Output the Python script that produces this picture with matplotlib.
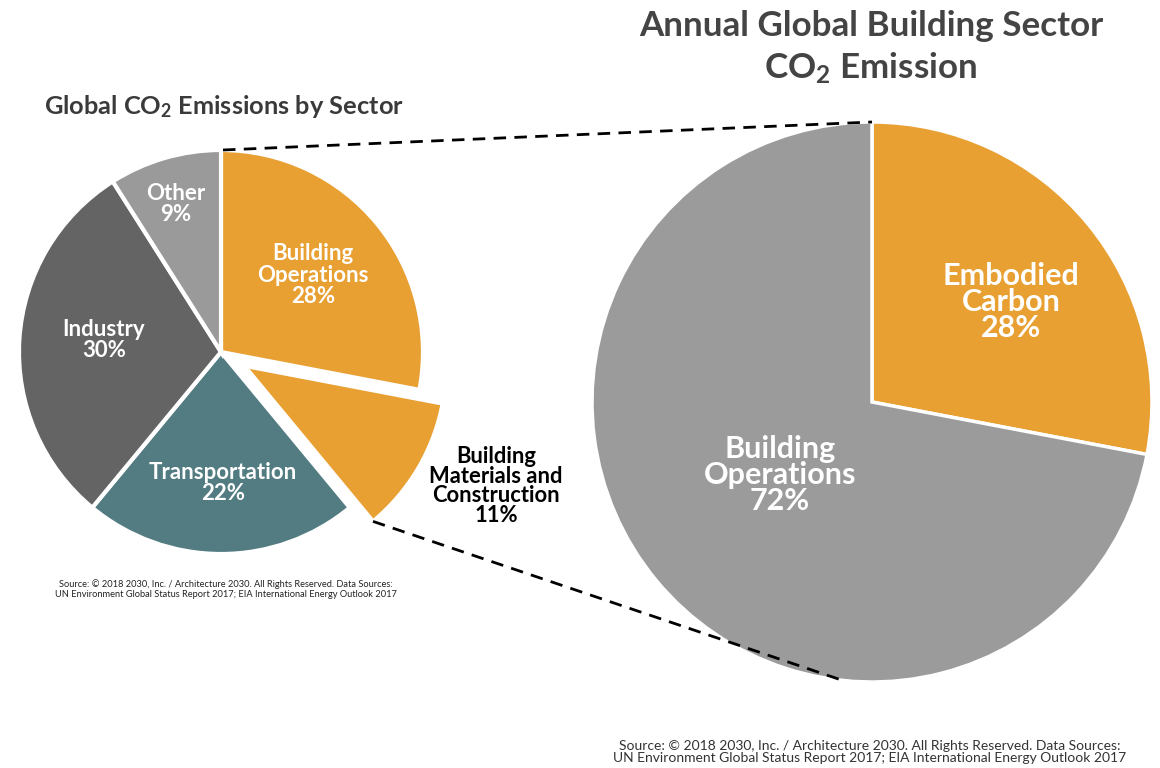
import numpy as np
import matplotlib
matplotlib.use("Agg")
import matplotlib.pyplot as plt

plt.rcParams['font.family'] = ['Lato', 'DejaVu Sans']
plt.rcParams['mathtext.fontset'] = 'custom'
plt.rcParams['mathtext.rm'] = 'Lato:bold'
plt.rcParams['mathtext.it'] = 'Lato:bold'
plt.rcParams['mathtext.bf'] = 'Lato:bold'

# ---- data ----
left_labels = ["Building\nOperations\n28%", "Building\nMaterials and\nConstruction\n11%",
               "Transportation\n22%", "Industry\n30%", "Other\n9%"]
left_values = [28, 11, 22, 30, 9]
left_colors = ["#E8A033", "#E8A033", "#527C82", "#646464", "#9A9A9A"]

right_labels = ["Embodied\nCarbon\n28%", "Building\nOperations\n72%"]
right_values = [28, 72]
right_colors = ["#E8A033", "#9B9B9B"]

W, H = 1160, 768
def Y(y):
    return H - y

fig = plt.figure(figsize=(W / 100, H / 100), dpi=100)
ax = fig.add_axes([0, 0, 1, 1])

# left pie
lc = (221, Y(352)); lr = 202
lw_, _ = ax.pie(left_values, colors=left_colors, startangle=90, counterclock=False,
                explode=[0, 27, 0, 0, 0], radius=lr, center=lc,
                wedgeprops=dict(edgecolor='white', linewidth=3))

# right pie
rc = (872, Y(402)); rr = 280
rw_, _ = ax.pie(right_values, colors=right_colors, startangle=90, counterclock=False,
                radius=rr, center=rc,
                wedgeprops=dict(edgecolor='white', linewidth=2.5))

ax.set_xlim(0, W)
ax.set_ylim(0, H)
ax.set_aspect('equal')
ax.axis('off')

# connector lines
dash = dict(color='black', lw=2, linestyle=(0, (4.5, 3)), zorder=5)
ax.plot([lc[0] + 2, rc[0]], [lc[1] + lr, rc[1] + rr], **dash)
ew = lw_[1]
a = np.deg2rad(ew.theta1)
p1 = (ew.center[0] + ew.r * np.cos(a), ew.center[1] + ew.r * np.sin(a))
b = np.deg2rad(264)
p2 = (rc[0] + rr * np.cos(b), rc[1] + rr * np.sin(b))
ax.plot([p1[0], p2[0]], [p1[1], p2[1]], **dash)

# left labels
lab_kw = dict(ha='center', va='center', color='white', fontsize=16, fontweight='bold',
              linespacing=1.02)
ax.text(313, Y(275), left_labels[0], **lab_kw)
ax.text(496, Y(486), left_labels[1], ha='center', va='center', color='black',
        fontsize=15.8, fontweight='bold', linespacing=0.94)
ax.text(223, Y(483), left_labels[2], **lab_kw)
ax.text(104, Y(340), left_labels[3], **lab_kw)
ax.text(176, Y(204), left_labels[4], **lab_kw)

# right labels
rlab_kw = dict(ha='center', va='center', color='white', fontsize=22, fontweight='bold',
               linespacing=0.93)
ax.text(1011, Y(302), right_labels[0], **rlab_kw)
ax.text(780, Y(475), right_labels[1], **rlab_kw)

# titles
ax.text(224, Y(106), r"Global CO$_2$ Emissions by Sector", ha='center', va='center',
        color='#3a3a3a', fontsize=18.3, fontweight='bold')
ax.text(871, Y(26), "Annual Global Building Sector", ha='center', va='center',
        color='#444444', fontsize=25.2, fontweight='bold')
ax.text(871, Y(68), r"CO$_2$ Emission", ha='center', va='center',
        color='#444444', fontsize=25.2, fontweight='bold')

# sources
ax.text(226, Y(589), "Source: \u00a9 2018 2030, Inc. / Architecture 2030. All Rights Reserved. Data Sources:\n"
        "UN Environment Global Status Report 2017; EIA International Energy Outlook 2017",
        ha='center', va='center', color='#222222', fontsize=6.7, linespacing=1.25)
ax.text(870, Y(752), "Source: \u00a9 2018 2030, Inc. / Architecture 2030. All Rights Reserved. Data Sources:\n"
        "UN Environment Global Status Report 2017; EIA International Energy Outlook 2017",
        ha='center', va='center', color='#333333', fontsize=10, linespacing=1.1)

fig.savefig("out.png", dpi=100, facecolor='white')
